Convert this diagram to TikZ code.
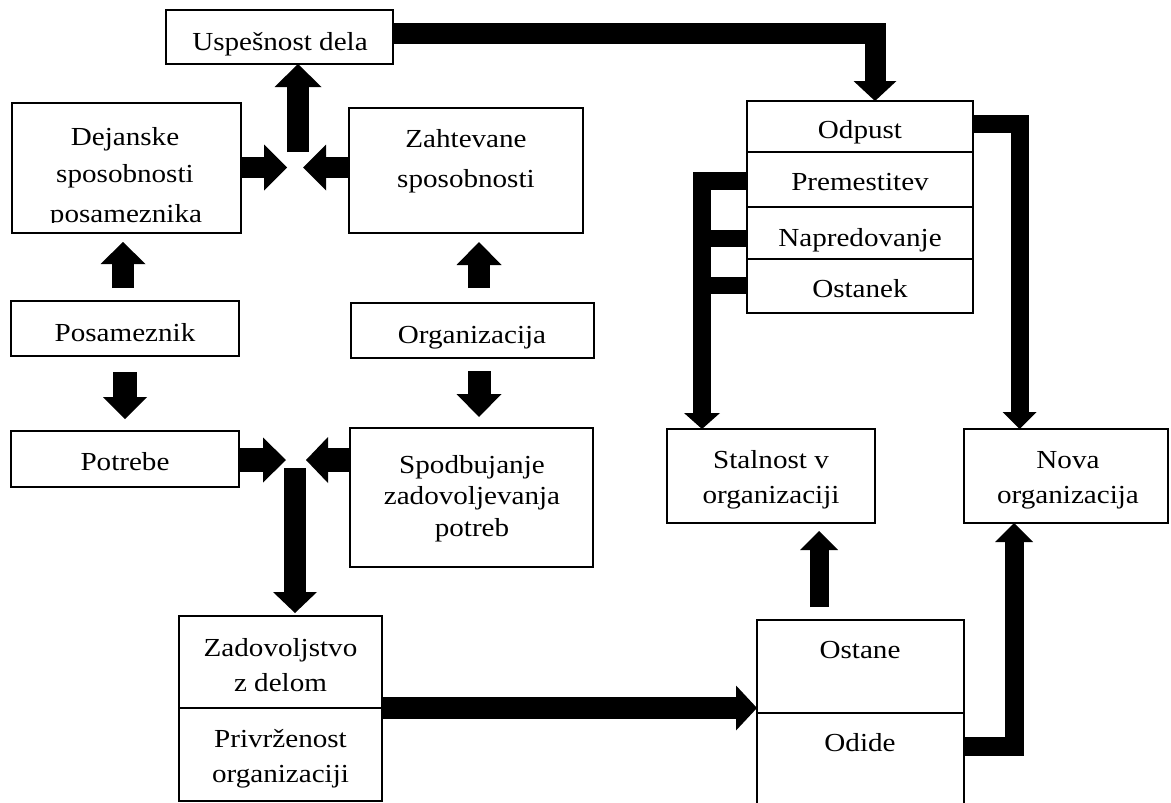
\documentclass[tikz,border=0pt]{standalone}
\usepackage{fontspec}
\setmainfont[FakeStretch=1.12]{Liberation Serif}
\usetikzlibrary{arrows.meta}
\newcommand\bx[5]{\node[box,minimum width={(#4-#2)*1pt},minimum height={(#5-#3)*1pt}] (#1) at ({(#2+#4)/2},{(#3+#5)/2}) {};}
\newcommand\tx[4]{\node[txt] (#1) at (#2,#3) {#4};}
\begin{document}
\begin{tikzpicture}[x=1pt,y=-1pt,
  box/.style={draw, line width=1.6pt, inner sep=0pt, outer sep=0pt, rectangle},
  txt/.style={anchor=base, inner sep=0pt, font=\fontsize{26pt}{30pt}\selectfont},
  arw/.style n args={3}{draw, line width=#1, line join=miter, -{Triangle[width=#2,length=#3,line width=0pt]}},
  bar/.style={draw, line width=#1}]
\useasboundingbox (0,0) rectangle (1171,803);
% boxes
\bx{usp}{166}{10}{393}{64}
\bx{dej}{12}{103}{241}{233}
\bx{zah}{349}{108}{583}{233}
\bx{pos}{11}{301}{239}{356}
\bx{org}{351}{303}{594}{358}
\bx{pot}{11}{431}{239}{487}
\bx{spo}{350}{428}{593}{567}
\bx{zad1}{179}{616}{382}{708}
\bx{zad2}{179}{708}{382}{801}
\bx{odp}{747}{101}{973}{152}
\bx{pre}{747}{152}{973}{207}
\bx{nap}{747}{207}{973}{259}
\bx{osk}{747}{259}{973}{313}
\bx{stal}{667}{429}{875}{523}
\bx{nova}{964}{429}{1168}{523}
\bx{ost}{757}{620}{964}{713}
\bx{odi}{757}{713}{964}{830}
% texts
\tx{tu}{280}{50}{Uspešnost dela}
\tx{td1}{125}{145}{Dejanske}
\tx{td2}{125}{182}{sposobnosti}
\begin{scope}
\clip (0,100) rectangle (300,222.5);
\tx{td3}{126}{222}{posameznika}
\end{scope}
\tx{tz1}{466}{147}{Zahtevane}
\tx{tz2}{466}{187}{sposobnosti}
\tx{tpo}{125}{341}{Posameznik}
\tx{tor}{472}{343}{Organizacija}
\tx{tpt}{125}{470}{Potrebe}
\tx{ts1}{472}{473}{Spodbujanje}
\tx{ts2}{472}{504}{zadovoljevanja}
\tx{ts3}{472}{536}{potreb}
\tx{ta1}{280.5}{656}{Zadovoljstvo}
\tx{ta2}{280.5}{691}{z delom}
\tx{ta3}{280.5}{747}{Privrženost}
\tx{ta4}{280.5}{782}{organizaciji}
\tx{tod}{860}{138}{Odpust}
\tx{tpr}{860}{190}{Premestitev}
\tx{tna}{860}{246}{Napredovanje}
\tx{tok}{860}{297}{Ostanek}
\tx{tl1}{771}{468}{Stalnost v}
\tx{tl2}{771}{503}{organizaciji}
\tx{tn1}{1068}{468}{Nova}
\tx{tn2}{1068}{503}{organizacija}
\tx{tos}{860}{658}{Ostane}
\tx{tdi}{860}{751}{Odide}
% helper coordinates
\coordinate (c1) at (287,167.5);
\coordinate (c2) at (303,167.5);
\coordinate (c3) at (298,152);
\coordinate (c4) at (286,460);
\coordinate (c5) at (306,460);
\coordinate (c6) at (295,468);
\coordinate (k1) at (875,33.5);
\coordinate (k2) at (1014,746);
\coordinate (k3) at (1019.5,124);
\coordinate (k4) at (702,180.5);
\coordinate (k5) at (702,238.5);
\coordinate (k6) at (702,285.5);
\coordinate (u1) at (819,0);
% arrows
\draw[arw={21pt}{46pt}{23pt}] (dej.east |- c1) -- (c1);
\draw[arw={21pt}{46pt}{23pt}] (zah.west |- c2) -- (c2);
\draw[arw={22pt}{47pt}{23pt}] (c3) -- (c3 |- usp.south);
\draw[arw={21pt}{43pt}{20pt}] (usp.east |- k1) -- (k1) -- (k1 |- odp.north);
\draw[arw={22pt}{45pt}{22pt},shorten <=13pt,shorten >=9pt] ([xshift=-2pt]pos.north) -- ([xshift=-2pt]pos.north |- dej.south);
\draw[arw={22pt}{45pt}{23pt},shorten <=15pt,shorten >=9pt] ([xshift=6.5pt]org.north) -- ([xshift=6.5pt]org.north |- zah.south);
\draw[arw={24pt}{44pt}{22pt},shorten <=16pt,shorten >=12pt] (pos.south) -- (pos.south |- pot.north);
\draw[arw={23pt}{45pt}{23pt},shorten <=13pt,shorten >=11pt] ([xshift=6.5pt]org.south) -- ([xshift=6.5pt]org.south |- spo.north);
\draw[arw={24pt}{45pt}{23pt}] (pot.east |- c4) -- (c4);
\draw[arw={24pt}{46pt}{22pt}] (spo.west |- c5) -- (c5);
\draw[arw={22pt}{44pt}{21pt},shorten >=3pt] (c6) -- (c6 |- zad1.north);
\draw[arw={22pt}{45pt}{21pt}] (zad1.south east) -- (zad1.south east -| ost.west);
\draw[arw={19pt}{38pt}{19pt},shorten <=13pt,shorten >=8pt] (u1 |- ost.north) -- (u1 |- stal.south);
\draw[arw={19pt}{38pt}{19pt}] (odi.east |- k2) -- (k2) -- (k2 |- nova.south);
\draw[arw={18pt}{34pt}{17pt}] (odp.east |- k3) -- (k3) -- (k3 |- nova.north);
\draw[arw={18pt}{36pt}{16pt}] (pre.west |- k4) -- (k4) -- (k4 |- stal.north);
\draw[bar=17pt] (nap.west |- k5) -- (k5);
\draw[bar=17pt] (osk.west |- k6) -- (k6);
\end{tikzpicture}
\end{document}
